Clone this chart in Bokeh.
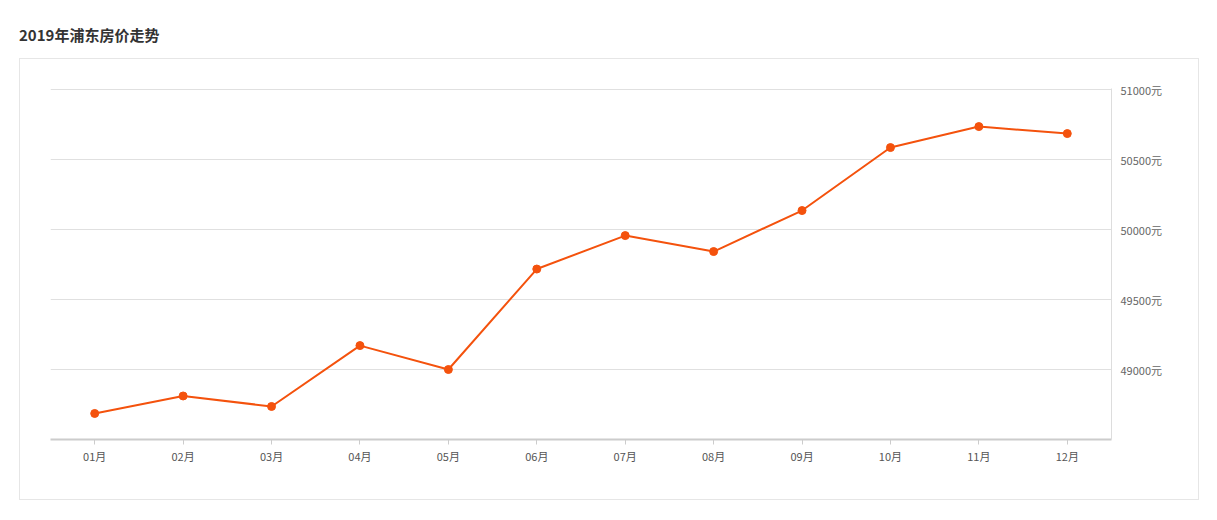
from bokeh.plotting import figure
from bokeh.models import Range1d, FixedTicker, PrintfTickFormatter, Div, ColumnDataSource
from bokeh.layouts import column
from bokeh.embed import file_html
from bokeh.resources import INLINE

title_text = "2019年浦东房价走势"
months = ["01月", "02月", "03月", "04月", "05月", "06月", "07月", "08月", "09月", "10月", "11月", "12月"]
prices = [48686, 48811, 48736, 49171, 49000, 49718, 49957, 49843, 50136, 50586, 50736, 50686]
y_ticks = [49000, 49500, 50000, 50500, 51000]

FONT = "Noto Sans CJK SC"
LINE_COLOR = "#f4520d"

src = ColumnDataSource(dict(month=months, price=prices))

p = figure(
    x_range=months,
    y_range=Range1d(48500, 51008),
    width=1180, height=442,
    output_backend="svg", toolbar_location=None,
    y_axis_location="right",
    min_border_left=30, min_border_right=89, min_border_top=29, min_border_bottom=62,
    background_fill_color="white", border_fill_color="white",
    outline_line_color=None,
    margin=(0, 0, 0, 19),
    styles={"border": "1px solid #e6e6e6", "box-sizing": "border-box"},
)
p.x_range.range_padding = 0

p.line("month", "price", source=src, line_color=LINE_COLOR, line_width=2)
p.scatter("month", "price", source=src, size=8, fill_color=LINE_COLOR, line_color=LINE_COLOR)

# y axis (right)
yax = p.yaxis[0]
yax.ticker = FixedTicker(ticks=y_ticks)
yax.formatter = PrintfTickFormatter(format="%d元")
yax.axis_line_color = "#dddddd"
yax.axis_line_width = 1
yax.major_tick_line_color = None
yax.minor_tick_line_color = None
yax.major_label_text_font = FONT
yax.major_label_text_font_size = "11px"
yax.major_label_text_color = "#666666"
yax.major_label_standoff = 3

# x axis
xax = p.xaxis[0]
xax.axis_line_color = "#cccccc"
xax.axis_line_width = 2
xax.major_tick_line_color = "#cccccc"
xax.major_tick_out = 5
xax.major_tick_in = 0
xax.major_label_text_font = FONT
xax.major_label_text_font_size = "11px"
xax.major_label_text_color = "#555555"
xax.major_label_standoff = 3

p.xgrid.grid_line_color = None
p.ygrid.grid_line_color = "#e0e0e0"
p.ygrid.ticker = FixedTicker(ticks=y_ticks)

title = Div(
    text=f'<div style="font-family:\'{FONT}\'; font-weight:bold; font-size:15px; color:#333; padding-top:17px; line-height:20px">{title_text}</div>',
    width=1180, height=50, margin=(8, 0, 0, 19),
)

layout = column(title, p, spacing=0)

open("out.html", "w").write(file_html(layout, INLINE))
